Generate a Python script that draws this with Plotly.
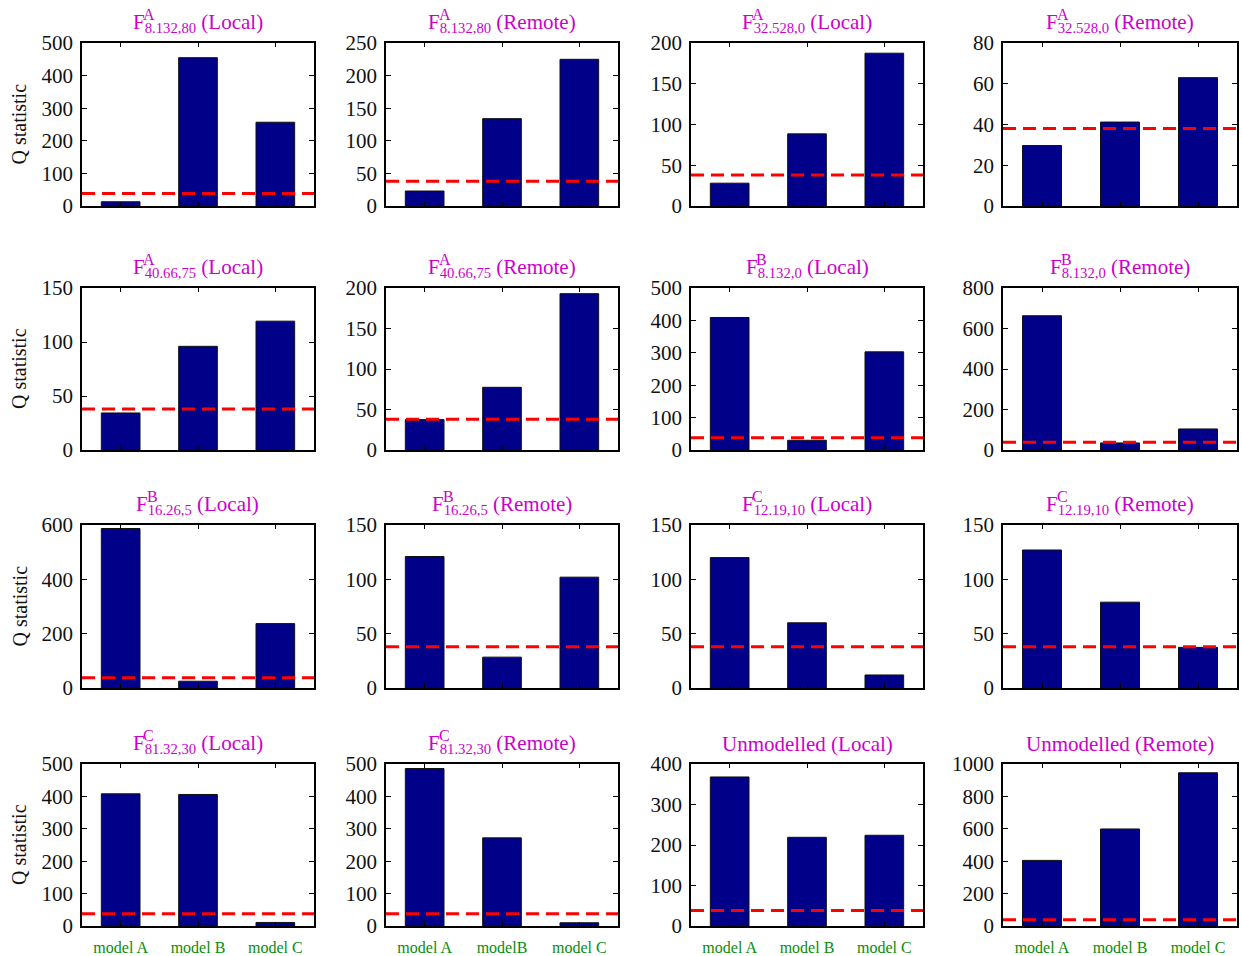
import plotly.graph_objects as go

FIG_W, FIG_H = 1242, 956

# model order on the x axis
CATEGORIES = ["model A", "model B", "model C"]
# tick labels printed under the bottom row (second panel spells it "modelB")
BOTTOM_TICKTEXT = [
    ["model A", "model B", "model C"],
    ["model A", "modelB", "model C"],
    ["model A", "model B", "model C"],
    ["model A", "model B", "model C"],
]

# panel titles: feature family (superscript), parameters (subscript), setting
FAMILY = ["A", "A", "A", "A", "A", "A", "B", "B",
          "B", "B", "C", "C", "C", "C", "", ""]
PARAMS = ["8.132,80", "8.132,80", "32.528,0", "32.528,0",
          "40.66,75", "40.66,75", "8.132,0", "8.132,0",
          "16.26,5", "16.26,5", "12.19,10", "12.19,10",
          "81.32,30", "81.32,30", "", ""]
SETTING = ["Local", "Remote"] * 8

# Q statistic per panel for each model
Q_MODEL_A = [13, 23, 28, 29.7, 34.3, 37.5, 409, 663,
             587, 121, 120, 127, 408, 486, 368, 405]
Q_MODEL_B = [455, 134, 88.5, 41.2, 96, 77.4, 30, 35,
             25, 28.4, 60, 79, 406, 272, 219, 599]
Q_MODEL_C = [257, 225, 187.5, 63, 119.3, 193, 303, 104,
             237, 102, 12, 37.4, 11, 10, 224, 946]

# y-axis extent and tick step per panel
Y_MAX = [500, 250, 200, 80, 150, 200, 500, 800,
         600, 150, 150, 150, 500, 500, 400, 1000]
Y_STEP = [100, 50, 50, 20, 50, 50, 100, 200,
          200, 50, 50, 50, 100, 100, 100, 200]

# critical value of the test
THRESHOLD = 38

# plot-area pixel boxes for the 4x4 grid
COL_PX = [(82, 314), (386, 618), (691, 923), (1003, 1237)]
ROW_PX = [(43, 206), (288, 450), (525, 688), (764, 926)]

FONT = "Liberation Serif"
BAR_COLOR = "#000088"
TITLE_COLOR = "#CC00CC"
LABEL_GREEN = "#0A8C0A"

TITLE_SIZE = 21
SUB_SIZE = 16
SUP_SIZE = 16

# Times-metric advance widths (em) for title layout
ADV = {"F": 0.556, "A": 0.722, "B": 0.667, "C": 0.667, "U": 0.722,
       ".": 0.25, ",": 0.25, " ": 0.25, "(": 0.333, ")": 0.333,
       "L": 0.611, "o": 0.5, "c": 0.444, "a": 0.444, "l": 0.278,
       "R": 0.667, "e": 0.444, "m": 0.778, "t": 0.278, "n": 0.5, "d": 0.5}


def text_w(s, size):
    return sum(ADV.get(ch, 0.5) for ch in s) * size


fig = go.Figure()
annotations = []
shapes = []

for i in range(16):
    r, c = divmod(i, 4)
    n = i + 1
    xs = "" if n == 1 else str(n)
    x0, x1 = COL_PX[c]
    y0, y1 = ROW_PX[r]
    xdom = [x0 / FIG_W, x1 / FIG_W]
    ydom = [1 - y1 / FIG_H, 1 - y0 / FIG_H]

    values = [Q_MODEL_A[i], Q_MODEL_B[i], Q_MODEL_C[i]]
    fig.add_trace(go.Bar(
        x=[1, 2, 3], y=values, width=0.5,
        marker=dict(color=BAR_COLOR, line=dict(color="#111111", width=1)),
        hovertext=CATEGORIES,
        xaxis="x" + xs, yaxis="y" + xs, showlegend=False,
    ))

    bottom = r == 3
    fig.layout["xaxis" + xs] = dict(
        domain=xdom, anchor="y" + xs, range=[0.5, 3.5],
        tickmode="array", tickvals=[1, 2, 3],
        ticktext=BOTTOM_TICKTEXT[c] if bottom else CATEGORIES,
        showticklabels=bottom,
        tickfont=dict(family=FONT, size=16, color=LABEL_GREEN),
        ticks="inside", ticklen=4, tickcolor="black", tickwidth=1,
        showline=True, linecolor="black", linewidth=1.5, mirror="ticks",
        showgrid=False, zeroline=False, ticklabelstandoff=6,
        automargin=False,
    )
    fig.layout["yaxis" + xs] = dict(
        domain=ydom, anchor="x" + xs, range=[0, Y_MAX[i]],
        tick0=0, dtick=Y_STEP[i],
        tickfont=dict(family=FONT, size=21, color="#111111"),
        ticks="inside", ticklen=5, tickcolor="black", tickwidth=1,
        showline=True, linecolor="black", linewidth=1.5, mirror="ticks",
        showgrid=False, zeroline=False, ticklabelstandoff=3,
        automargin=False,
    )

    shapes.append(dict(
        type="line", xref="x" + xs + " domain", x0=0, x1=1,
        yref="y" + xs, y0=THRESHOLD, y1=THRESHOLD,
        line=dict(color="#FF0000", width=3, dash="13px,7px"), layer="above",
    ))

    # panel title
    cx = (x0 + x1) / 2
    top_paper = ydom[1]
    rest = " (" + SETTING[i] + ")"
    if FAMILY[i]:
        main = ("F<sub style='font-size:%dpx'>%s</sub>%s"
                % (SUB_SIZE, PARAMS[i], rest))
        total = (text_w("F", TITLE_SIZE) + text_w(PARAMS[i], SUB_SIZE)
                 + text_w(rest, TITLE_SIZE))
        annotations.append(dict(
            text=main, xref="paper", yref="paper", x=cx / FIG_W, y=top_paper,
            xanchor="center", yanchor="bottom", yshift=5, showarrow=False,
            font=dict(family=FONT, size=TITLE_SIZE, color=TITLE_COLOR),
        ))
        f_left = cx - total / 2
        annotations.append(dict(
            text=FAMILY[i], xref="paper", yref="paper",
            x=(f_left + text_w("F", TITLE_SIZE) - 1) / FIG_W, y=top_paper,
            xanchor="left", yanchor="bottom", yshift=18, showarrow=False,
            font=dict(family=FONT, size=SUP_SIZE, color=TITLE_COLOR),
        ))
    else:
        annotations.append(dict(
            text="Unmodelled" + rest, xref="paper", yref="paper",
            x=cx / FIG_W, y=top_paper,
            xanchor="center", yanchor="bottom", yshift=6, showarrow=False,
            font=dict(family=FONT, size=TITLE_SIZE, color=TITLE_COLOR),
        ))

    if c == 0:
        annotations.append(dict(
            text="Q statistic", xref="paper", yref="paper",
            x=19 / FIG_W, y=(ydom[0] + ydom[1]) / 2, textangle=-90,
            xanchor="center", yanchor="middle", showarrow=False,
            font=dict(family=FONT, size=20, color="#111111"),
        ))

fig.update_layout(
    width=FIG_W, height=FIG_H,
    margin=dict(l=0, r=0, t=0, b=0, autoexpand=False),
    paper_bgcolor="white", plot_bgcolor="white",
    annotations=annotations, shapes=shapes,
    bargap=0.5,
)

fig.write_html("out.html", config={"displayModeBar": False})
